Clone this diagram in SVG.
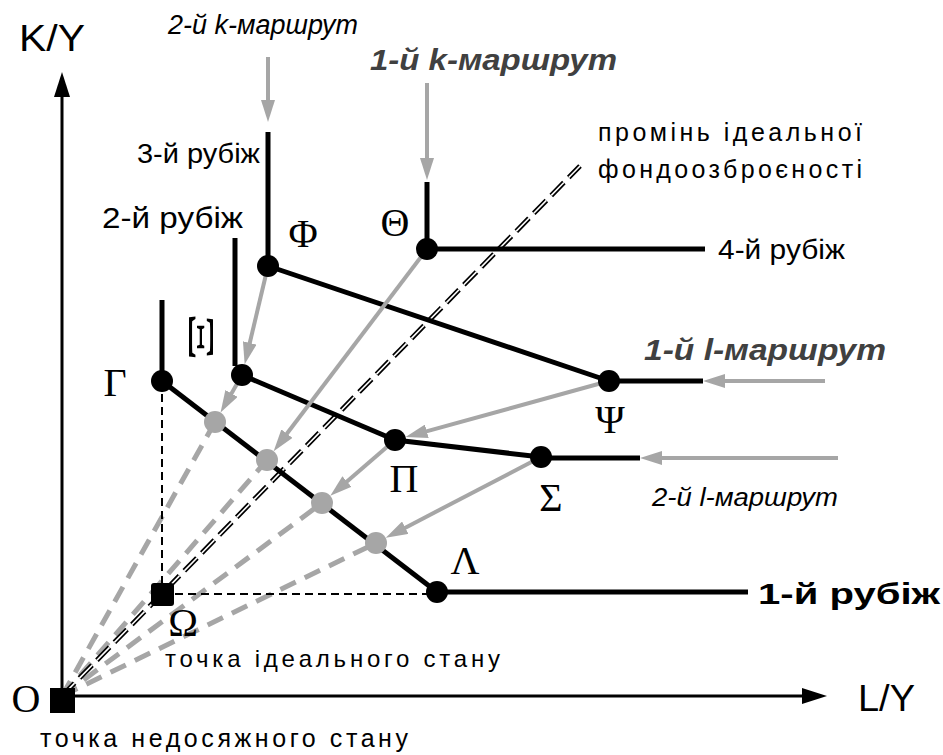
<svg xmlns="http://www.w3.org/2000/svg" width="943" height="755" viewBox="0 0 943 755">
<defs>
<style>
.ax{stroke:#000;stroke-width:3;fill:none}
.bl{stroke:#000;stroke-width:5;fill:none}
.bd{stroke:#000;stroke-width:2;stroke-dasharray:8 5;fill:none}
.gd{stroke:#a6a6a6;stroke-width:5;stroke-dasharray:17 10;fill:none}
.ga{stroke:#a6a6a6;stroke-width:4;fill:none;marker-end:url(#gh)}
.rayb{stroke:#000;stroke-width:5;stroke-dasharray:18 7;fill:none}
.rayw{stroke:#fff;stroke-width:1.6;stroke-dasharray:18 7;fill:none}
.nb{fill:#000}
.ng{fill:#a6a6a6}
.gr{font-family:"Liberation Serif","Times New Roman",serif;font-size:40px;fill:#000;text-anchor:middle}
.sa{font-family:"Liberation Sans",Arial,sans-serif;fill:#000}
.it{font-style:italic}
.bo{font-weight:bold}
.dg{fill:#404040}
</style>
<marker id="gh" viewBox="0 0 22 14" markerWidth="22" markerHeight="14" refX="8" refY="7" orient="auto" markerUnits="userSpaceOnUse">
<path d="M0,0 L22,7 L0,14 z" fill="#a6a6a6"/>
</marker>
</defs>

<g id="axes">
<line class="ax" x1="62" y1="700" x2="62" y2="95"/>
<polygon points="62,72 54,97 70,97" fill="#000"/>
<line class="ax" x1="62" y1="696" x2="805" y2="696"/>
<polygon points="827,696 802,688 802,704" fill="#000"/>
<text class="sa" x="19" y="51" font-size="37" textLength="66" lengthAdjust="spacingAndGlyphs">K/Y</text>
<text class="sa" x="858" y="711" font-size="36" textLength="57" lengthAdjust="spacingAndGlyphs">L/Y</text>
</g>

<g id="connectors">
<line class="gd" x1="62" y1="696" x2="215" y2="422"/>
<line class="gd" x1="62" y1="696" x2="267" y2="460"/>
<line class="gd" x1="62" y1="696" x2="322" y2="503"/>
<line class="gd" x1="62" y1="696" x2="376" y2="543"/>
<line class="bd" x1="162" y1="381" x2="162" y2="594"/>
<line class="bd" x1="162" y1="594" x2="437" y2="594"/>
<line class="rayb" x1="62" y1="696" x2="580" y2="166"/>
<line class="rayw" x1="62" y1="696" x2="580" y2="166"/>
<line class="bl" x1="162" y1="300" x2="162" y2="381"/>
<line class="bl" x1="235" y1="238" x2="235" y2="366"/>
<line class="bl" x1="268" y1="132" x2="268" y2="266"/>
<line class="bl" x1="427" y1="182" x2="427" y2="249"/>
<line class="bl" x1="427" y1="249" x2="705" y2="249"/>
<line class="bl" x1="609" y1="381" x2="703" y2="381"/>
<line class="bl" x1="541" y1="458" x2="640" y2="458"/>
<line class="bl" x1="437" y1="592" x2="748" y2="592"/>
<line class="bl" x1="268" y1="266" x2="609" y2="381"/>
<line class="bl" x1="242" y1="375" x2="395" y2="440"/>
<line class="bl" x1="395" y1="440" x2="541" y2="457"/>
<line class="bl" x1="162" y1="381" x2="437" y2="592"/>
<line class="ga" x1="268" y1="57" x2="268" y2="108"/>
<line class="ga" x1="427" y1="83" x2="427" y2="166"/>
<line class="ga" x1="825" y1="381" x2="717" y2="381"/>
<line class="ga" x1="838" y1="458" x2="654" y2="458"/>
<line class="ga" x1="268" y1="266" x2="247.9" y2="350.7"/>
<line class="ga" x1="242" y1="375" x2="227.5" y2="400.4"/>
<line class="ga" x1="427" y1="249" x2="282.1" y2="440"/>
<line class="ga" x1="609" y1="381" x2="419.1" y2="433.4"/>
<line class="ga" x1="395" y1="440" x2="340.9" y2="486.7"/>
<line class="ga" x1="541" y1="457" x2="398.2" y2="531.4"/>
</g>

<g id="node-O"><rect class="nb" x="50" y="688" width="25" height="25"/><text class="gr" x="26" y="712">O</text></g>
<g id="node-Omega"><rect class="nb" x="151" y="583" width="23" height="23" rx="3"/><text class="gr" x="183" y="636">Ω</text></g>
<g id="node-Gamma"><circle class="nb" cx="162" cy="381" r="11"/><text class="gr" x="115" y="396">Γ</text></g>
<g id="node-Xi"><circle class="nb" cx="242" cy="375" r="11"/><text class="gr" transform="translate(201,337) rotate(90) scale(1.9,0.9)" x="0" y="13">Ξ</text></g>
<g id="node-Phi"><circle class="nb" cx="268" cy="266" r="11"/><text class="gr" x="303" y="247">Φ</text></g>
<g id="node-Theta"><circle class="nb" cx="427" cy="249" r="11"/><text class="gr" x="395" y="236">Θ</text></g>
<g id="node-Psi"><circle class="nb" cx="609" cy="381" r="11"/><text class="gr" x="610" y="433">Ψ</text></g>
<g id="node-Pi"><circle class="nb" cx="395" cy="440" r="11"/><text class="gr" x="404" y="492">Π</text></g>
<g id="node-Sigma"><circle class="nb" cx="541" cy="457" r="11"/><text class="gr" x="551" y="511">Σ</text></g>
<g id="node-Lambda"><circle class="nb" cx="437" cy="592" r="11"/><text class="gr" x="465" y="574">Λ</text></g>
<g id="node-g1"><circle class="ng" cx="215" cy="422" r="11"/></g>
<g id="node-g2"><circle class="ng" cx="267" cy="460" r="11"/></g>
<g id="node-g3"><circle class="ng" cx="322" cy="503" r="11"/></g>
<g id="node-g4"><circle class="ng" cx="376" cy="543" r="11"/></g>

<g id="labels">
<text class="sa it" x="168" y="34" font-size="27" textLength="190" lengthAdjust="spacingAndGlyphs">2-й k-маршрут</text>
<text class="sa it bo dg" x="370" y="70" font-size="29" textLength="247" lengthAdjust="spacingAndGlyphs">1-й k-маршрут</text>
<text class="sa" x="598" y="141" font-size="25" textLength="264">промінь ідеальної</text>
<text class="sa" x="598" y="178" font-size="25" textLength="264">фондоозброєності</text>
<text class="sa" x="137" y="163" font-size="27" textLength="123" lengthAdjust="spacingAndGlyphs">3-й рубіж</text>
<text class="sa" x="102" y="228" font-size="30" textLength="141" lengthAdjust="spacingAndGlyphs">2-й рубіж</text>
<text class="sa" x="718" y="259" font-size="27" textLength="127" lengthAdjust="spacingAndGlyphs">4-й рубіж</text>
<text class="sa it bo dg" x="644" y="360" font-size="29" textLength="242" lengthAdjust="spacingAndGlyphs">1-й l-маршрут</text>
<text class="sa it" x="652" y="506" font-size="26" textLength="186" lengthAdjust="spacingAndGlyphs">2-й l-маршрут</text>
<text class="sa bo" x="758" y="604" font-size="30" textLength="182" lengthAdjust="spacingAndGlyphs">1-й рубіж</text>
<text class="sa" x="165" y="667" font-size="24" textLength="335">точка ідеального стану</text>
<text class="sa" x="40" y="747" font-size="25" textLength="368">точка недосяжного стану</text>
</g>
</svg>
